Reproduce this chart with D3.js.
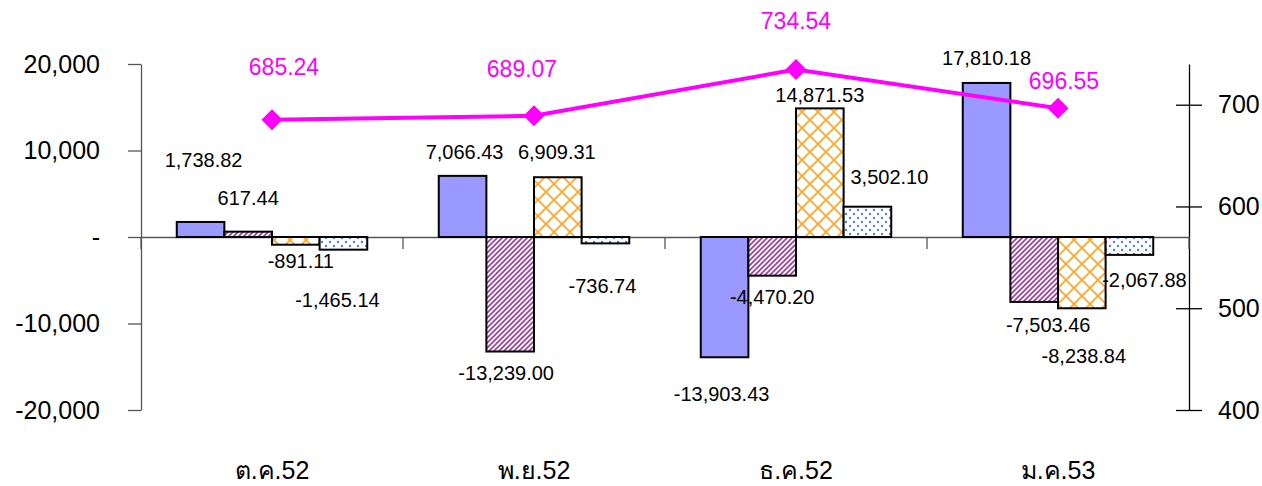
<!DOCTYPE html>
<html><head><meta charset="utf-8">
<script src="https://cdn.jsdelivr.net/npm/d3@7"></script>
<style>
html,body{margin:0;padding:0;background:#fff;}
svg{display:block;font-family:"Liberation Sans",Arial,sans-serif;}
</style></head>
<body>
<svg id="chart" width="1262" height="486"></svg>
<script>
// ---------- data ----------
const categories = ["ต.ค.52", "พ.ย.52", "ธ.ค.52", "ม.ค.53"];
const seriesA = [1738.82, 7066.43, -13903.43, 17810.18];
const seriesB = [617.44, -13239.00, -4470.20, -7503.46];
const seriesC = [-891.11, 6909.31, 14871.53, -8238.84];
const seriesD = [-1465.14, -736.74, 3502.10, -2067.88];
const lineValues = [685.24, 689.07, 734.54, 696.55];
const leftTicks = [20000, 10000, 0, -10000, -20000];
const leftTickLabels = ["20,000", "10,000", "-", "-10,000", "-20,000"];
const rightTicks = [400, 500, 600, 700];

// ---------- layout (label nudges in px, relative to bar end / point) ----------
const barLabelNudge = [
  [[3, -62], [2, -24], [-3, 37], [0, -25]],
  [[0, -34], [-4, 21], [0, 21], [14, 23]],
  [[5, 16], [-1, -25], [0, -14], [2, 48]],
  [[-6, 50], [-3, 42], [22, -30], [15, 25]]
];
const lineLabelNudge = [[12, -53], [-12, -47], [0, -49], [6, -27]];

const svg = d3.select("#chart");
const mLeft = 141, mRight = 1189, mTop = 64, mBottom = 410;

const series = [seriesA, seriesB, seriesC, seriesD];
const locale = d3.formatLocale({decimal: ".", thousands: ",", grouping: [3], currency: ["", ""], minus: "-"});
const fmt = locale.format(",.2f");
const fmt2 = locale.format(".2f");

const x0 = d3.scaleBand().domain(categories).range([mLeft, mRight]).padding(0);
const groupW = x0.bandwidth() * 0.727;
const x1 = d3.scaleBand().domain(d3.range(series.length)).range([-groupW / 2, groupW / 2]);
const y = d3.scaleLinear().domain([-20000, 20000]).range([mBottom, mTop]);
const y2 = d3.scaleLinear().domain([400, 740]).range([mBottom, mTop]);

// ---------- patterns ----------
const defs = svg.append("defs");
const pB = defs.append("pattern").attr("id", "pB").attr("patternUnits", "userSpaceOnUse")
  .attr("width", 5).attr("height", 5);
pB.append("rect").attr("width", 5).attr("height", 5).attr("fill", "#fff");
pB.append("path").attr("d", "M-1,6 L6,-1 M-1,1 L1,-1 M4,6 L6,4")
  .attr("stroke", "#a040a4").attr("stroke-width", 1.7);

const pC = defs.append("pattern").attr("id", "pC").attr("patternUnits", "userSpaceOnUse")
  .attr("width", 16).attr("height", 16).attr("x", 2);
pC.append("rect").attr("width", 16).attr("height", 16).attr("fill", "#fff");
pC.append("path").attr("d", "M0,0 L16,16 M16,0 L0,16")
  .attr("stroke", "#ffa425").attr("stroke-width", 1.6);

const pD = defs.append("pattern").attr("id", "pD").attr("patternUnits", "userSpaceOnUse")
  .attr("width", 8).attr("height", 8);
pD.append("rect").attr("width", 8).attr("height", 8).attr("fill", "#fff");
pD.append("circle").attr("cx", 2).attr("cy", 2).attr("r", 1.15).attr("fill", "#4270ff");
pD.append("circle").attr("cx", 6).attr("cy", 6).attr("r", 1.15).attr("fill", "#4270ff");

const fills = ["#9999ff", "url(#pB)", "url(#pC)", "url(#pD)"];

// ---------- axes ----------
const leftAxis = d3.axisLeft(y).tickValues(leftTicks)
  .tickFormat((d, i) => leftTickLabels[i]).tickSize(13).tickPadding(28).tickSizeOuter(0);
const gL = svg.append("g").attr("transform", `translate(${mLeft},0)`).call(leftAxis);
gL.select(".domain").attr("stroke", "#555").attr("stroke-width", 1.3);
gL.selectAll(".tick line").attr("stroke", "#555").attr("stroke-width", 1.3);
gL.selectAll(".tick text").attr("font-size", 25).attr("fill", "#000")
  .attr("font-family", "Liberation Sans, Arial, sans-serif");

const rightAxis = d3.axisRight(y2).tickValues(rightTicks).tickSize(13).tickPadding(16).tickSizeOuter(0);
const gR = svg.append("g").attr("transform", `translate(${mRight},0)`).call(rightAxis);
gR.select(".domain").attr("stroke", "#000").attr("stroke-width", 1.3);
gR.selectAll(".tick line").attr("x1", -13).attr("stroke", "#000").attr("stroke-width", 1.3);
gR.selectAll(".tick text").attr("font-size", 25).attr("fill", "#000")
  .attr("font-family", "Liberation Sans, Arial, sans-serif");

// category axis at zero
const catAxis = d3.axisBottom(x0).tickSize(0).tickFormat("");
const gC = svg.append("g").attr("transform", `translate(0,${y(0)})`).call(catAxis);
gC.select(".domain").attr("stroke", "#555").attr("stroke-width", 1.3);
const boundaries = categories.map(c => x0(c)).concat([mRight]);
gC.selectAll(".bt").data(boundaries).enter().append("line")
  .attr("x1", d => d).attr("x2", d => d).attr("y1", 0).attr("y2", 12)
  .attr("stroke", "#555").attr("stroke-width", 1.3);

// ---------- bars ----------
const barG = svg.append("g");
series.forEach((vals, si) => {
  barG.selectAll(".s" + si).data(vals).enter().append("rect")
    .attr("x", (d, i) => x0(categories[i]) + x0.bandwidth() / 2 + x1(si))
    .attr("width", x1.bandwidth())
    .attr("y", d => Math.min(y(d), y(0)))
    .attr("height", d => Math.abs(y(d) - y(0)))
    .attr("fill", fills[si])
    .attr("stroke", "#000").attr("stroke-width", 2);
});

// bar labels
series.forEach((vals, si) => {
  svg.selectAll(".l" + si).data(vals).enter().append("text")
    .attr("x", (d, i) => x0(categories[i]) + x0.bandwidth() / 2 + x1(si) + x1.bandwidth() / 2 + barLabelNudge[si][i][0])
    .attr("y", (d, i) => y(d) + barLabelNudge[si][i][1])
    .attr("dy", "0.36em")
    .attr("text-anchor", "middle")
    .attr("font-size", 20).attr("fill", "#000")
    .text(d => fmt(d));
});

// ---------- line ----------
const cx = i => x0(categories[i]) + x0.bandwidth() / 2;
const line = d3.line().x((d, i) => cx(i)).y(d => y2(d));
svg.append("path").datum(lineValues).attr("d", line)
  .attr("fill", "none").attr("stroke", "#ff00ff").attr("stroke-width", 4);
svg.selectAll(".mk").data(lineValues).enter().append("path")
  .attr("d", "M0,-10.5 L10.5,0 L0,10.5 L-10.5,0 Z")
  .attr("transform", (d, i) => `translate(${cx(i)},${y2(d)})`)
  .attr("fill", "#ff00ff");
svg.selectAll(".ll").data(lineValues).enter().append("text")
  .attr("x", (d, i) => cx(i) + lineLabelNudge[i][0])
  .attr("y", (d, i) => y2(d) + lineLabelNudge[i][1])
  .attr("dy", "0.36em")
  .attr("text-anchor", "middle")
  .attr("font-size", 23).attr("fill", "#ff00ff")
  .text(d => fmt2(d));

// ---------- category labels ----------
svg.selectAll(".cl").data(categories).enter().append("text")
  .attr("x", d => x0(d) + x0.bandwidth() / 2)
  .attr("y", 479)
  .attr("text-anchor", "middle")
  .attr("font-size", 25).attr("fill", "#000")
  .attr("font-family", "Liberation Sans, Arial, sans-serif")
  .text(d => d);
</script>
</body></html>
